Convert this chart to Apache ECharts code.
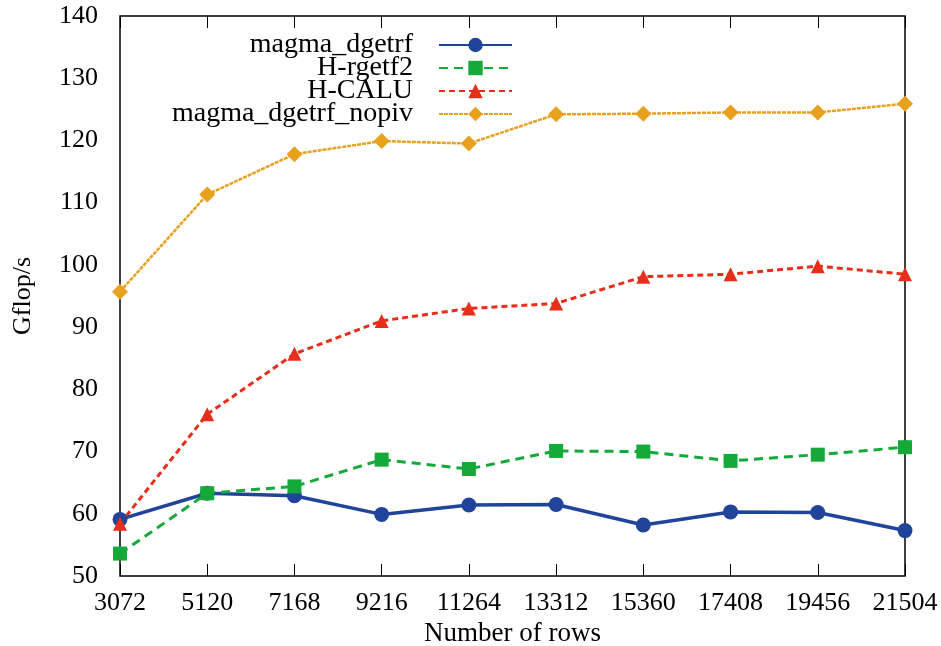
<!DOCTYPE html>
<html>
<head>
<meta charset="utf-8">
<script src="https://cdn.jsdelivr.net/npm/echarts@6/dist/echarts.min.js"></script>
<style>
  html, body { margin: 0; padding: 0; background: #fff; }
  #chart { width: 941px; height: 646px; }
</style>
</head>
<body>
<div id="chart"></div>
<script>
// data
const rows = ['3072', '5120', '7168', '9216', '11264', '13312', '15360', '17408', '19456', '21504'];
const magmaDgetrf = [59.1, 63.3, 62.9, 59.9, 61.4, 61.5, 58.2, 60.3, 60.2, 57.3];
const hRgetf2 = [53.6, 63.3, 64.4, 68.7, 67.2, 70.1, 70.0, 68.5, 69.5, 70.7];
const hCalu = [58.4, 76.0, 85.7, 91.0, 93.0, 93.8, 98.1, 98.5, 99.8, 98.5];
const magmaNopiv = [95.7, 111.3, 117.8, 119.9, 119.5, 124.2, 124.3, 124.5, 124.5, 125.9];

const FONT = '"Liberation Serif", serif';
const chart = echarts.init(document.getElementById('chart'));

const line = (name, data, color, type, symbol, size, width) => ({
  name: name,
  type: 'line',
  data: data,
  symbol: symbol,
  symbolSize: size,
  showSymbol: true,
  itemStyle: { color: color },
  lineStyle: { color: color, width: width, type: type },
  animation: false
});

// ticks on all four sides, pointing inwards
const tick = { inside: true, length: 12, lineStyle: { color: '#000', width: 1 } };

chart.setOption({
  backgroundColor: '#fff',
  grid: {
    left: 120, right: 36, top: 16, bottom: 70,
    outerBoundsMode: 'none',
    show: true, borderColor: '#000', borderWidth: 1.5
  },
  legend: {
    orient: 'vertical',
    right: 428,
    top: 31,
    padding: 0,
    align: 'right',
    itemGap: -5,
    itemWidth: 73,
    itemHeight: 18,
    textStyle: { fontFamily: FONT, fontSize: 28, lineHeight: 22, color: '#000', padding: [0, 21, 0, 0] },
    data: ['magma_dgetrf', 'H-rgetf2', 'H-CALU', 'magma_dgetrf_nopiv']
  },
  xAxis: [{
    type: 'category',
    data: rows,
    boundaryGap: false,
    name: 'Number of rows',
    nameLocation: 'middle',
    nameGap: 42,
    nameTextStyle: { fontFamily: FONT, fontSize: 27, color: '#000' },
    axisLine: { show: false },
    axisTick: tick,
    axisLabel: { fontFamily: FONT, fontSize: 26, color: '#000', margin: 14 },
    splitLine: { show: false }
  }, {
    type: 'category',
    data: rows,
    boundaryGap: false,
    position: 'top',
    axisLine: { show: false },
    axisTick: tick,
    axisLabel: { show: false },
    splitLine: { show: false }
  }],
  yAxis: [{
    type: 'value',
    min: 50,
    max: 140,
    interval: 10,
    name: 'Gflop/s',
    nameLocation: 'middle',
    nameGap: 84,
    nameTextStyle: { fontFamily: FONT, fontSize: 26, color: '#000' },
    axisLine: { show: false },
    axisTick: tick,
    axisLabel: { fontFamily: FONT, fontSize: 26, color: '#000', margin: 22 },
    splitLine: { show: false }
  }, {
    type: 'value',
    min: 50,
    max: 140,
    interval: 10,
    position: 'right',
    axisLine: { show: false },
    axisTick: tick,
    axisLabel: { show: false },
    splitLine: { show: false }
  }],
  series: [
    line('magma_dgetrf', magmaDgetrf, '#21449b', 'solid', 'circle', 15, 3.5),
    line('H-rgetf2', hRgetf2, '#15a93a', [9, 6], 'rect', 14, 3),
    line('H-CALU', hCalu, '#e62e1b', [6, 4], 'triangle', 14, 3),
    line('magma_dgetrf_nopiv', magmaNopiv, '#e8a11f', [4, 1], 'diamond', 16, 2.5)
  ]
});
</script>
</body>
</html>
